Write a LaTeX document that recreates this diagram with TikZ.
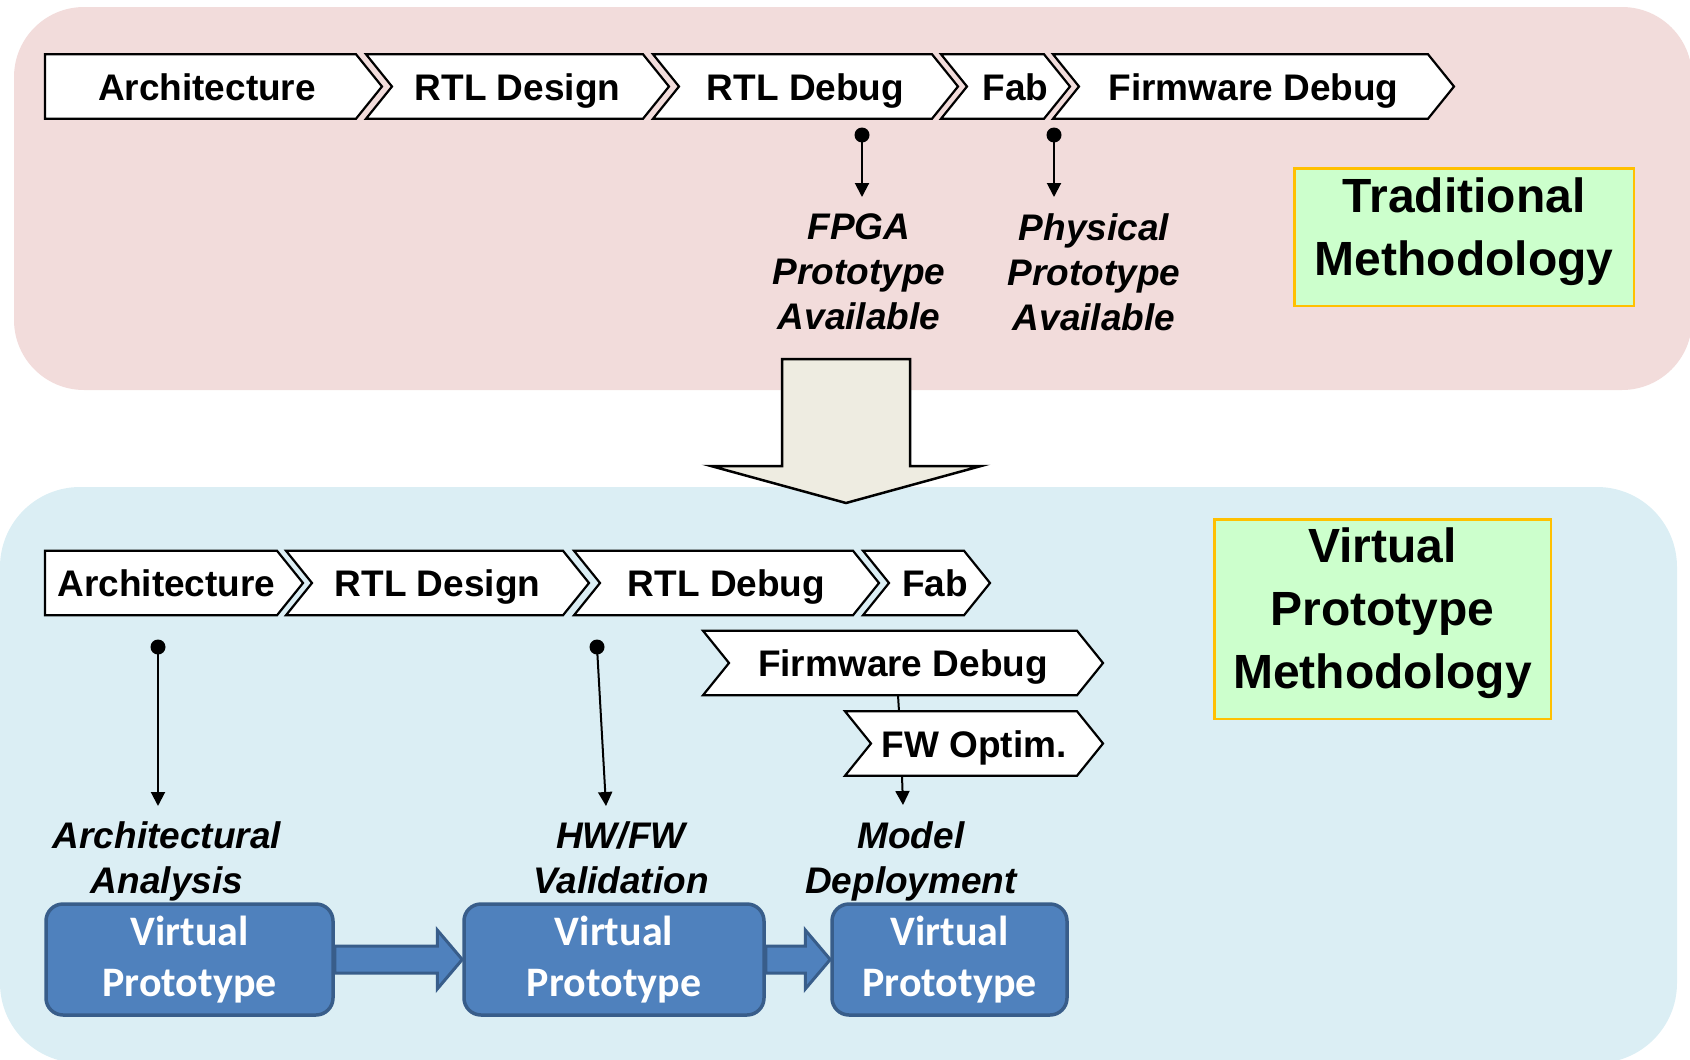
\documentclass[tikz,border=0pt]{standalone}
\usepackage{fontspec}
\setmainfont{Liberation Sans}
\newfontfamily\carlito{Carlito}
\usetikzlibrary{arrows.meta,calc}
\pgfdeclarelayer{bg}
\pgfdeclarelayer{chev}
\pgfsetlayers{bg,chev,main}
\definecolor{pinkbg}{HTML}{F2DCDB}
\definecolor{bluebg}{HTML}{DBEEF4}
\definecolor{vpfill}{HTML}{4F81BD}
\definecolor{vpdraw}{HTML}{385D8A}
\definecolor{mfill}{HTML}{CCFFCC}
\definecolor{mdraw}{HTML}{FFC000}
\definecolor{bigarrowfill}{HTML}{EEECE1}
\tikzset{
  chevnode/.style={rectangle, inner sep=0pt, outer sep=0pt, minimum height=64.5pt,
    text height=27pt, text depth=0pt, font=\fontsize{37}{44}\selectfont\bfseries},
  chevline/.style={draw=black, fill=white, line width=2.2pt, line join=miter},
  lbl/.style={anchor=north, inner sep=0pt, align=center,
    font=\fontsize{37}{45}\selectfont\bfseries\itshape},
  dotnode/.style={circle, fill=black, inner sep=0pt, minimum size=15pt},
  arr/.style={line width=2pt, -{Triangle[length=14pt,width=14pt]}},
  plainline/.style={line width=2pt},
  methbox/.style={rectangle, draw=mdraw, fill=mfill, line width=2.5pt, align=center,
    font=\fontsize{48}{63}\selectfont\bfseries},
  vpbox/.style={rectangle, rounded corners=17pt, draw=vpdraw, fill=vpfill, line width=3.5pt,
    text=white, align=center, minimum height=111pt, font=\fontsize{42}{51}\selectfont\carlito\bfseries},
  blockarrow/.style={draw=vpdraw, fill=vpfill, line width=3pt, line join=miter},
  bigarrow/.style={draw=black, fill=bigarrowfill, line width=2.5pt, line join=miter},
}
\newcommand\chevN[1]{%
  \path[chevline] ([xshift=-26pt]#1.north west) -- (#1.north east) -- ([xshift=26pt]#1.east)
    -- (#1.south east) -- ([xshift=-26pt]#1.south west) -- (#1.west) -- cycle;}
\newcommand\chevF[1]{%
  \path[chevline] (#1.north west) -- (#1.north east) -- ([xshift=26pt]#1.east)
    -- (#1.south east) -- (#1.south west) -- cycle;}
\newcommand\blockarr[2]{%
  \path[blockarrow] ([yshift=13.5pt]#1.east) -- ([xshift=-25pt,yshift=13.5pt]#2.west)
    -- ([xshift=-25pt,yshift=29.5pt]#2.west) -- (#2.west)
    -- ([xshift=-25pt,yshift=-29.5pt]#2.west) -- ([xshift=-25pt,yshift=-13.5pt]#2.west)
    -- ([yshift=-13.5pt]#1.east) -- cycle;}
\newcommand\lowstrut{\rule[-21pt]{0pt}{21pt}}
\begin{document}
\begin{tikzpicture}[x=1pt,y=-1pt]
\useasboundingbox (0,0) rectangle (1690,1060);
\begin{pgfonlayer}{bg}
  \fill[pinkbg, rounded corners=70pt] (14,7) rectangle (1692,390);
  \fill[bluebg, rounded corners=80pt] (0,487) rectangle (1677,1063);
\end{pgfonlayer}

% ---- traditional flow
\node[chevnode, minimum width=311pt] (archT) at (200.5,86.5) {\hspace*{6.5pt}Architecture\hspace*{-6.5pt}};
\node[chevnode, minimum width=251pt] (rtldesT) at (517.5,86.5) {RTL Design};
\node[chevnode, minimum width=253pt] (rtldbgT) at (805.5,86.5) {RTL Debug};
\node[chevnode, minimum width=77pt] (fabT) at (1005.5,86.5) {\hspace*{10pt}Fab\hspace*{-10pt}};
\node[chevnode, minimum width=349pt] (fwT) at (1253.5,86.5) {Firmware Debug};

% ---- virtual prototype flow
\node[chevnode, minimum width=232pt] (archB) at (161,583) {\hspace*{5.5pt}Architecture\hspace*{-5.5pt}};
\node[chevnode, minimum width=251pt] (rtldesB) at (437.5,583) {RTL Design};
\node[chevnode, minimum width=253pt] (rtldbgB) at (726.5,583) {RTL Debug};
\node[chevnode, minimum width=75pt] (fabB) at (926.5,583) {\hspace*{8.5pt}Fab\hspace*{-8.5pt}};
\node[chevnode, minimum width=348pt] (fwdB) at (903,663) {Firmware Debug};
\node[chevnode, minimum width=206pt] (fwO) at (974,743.5) {FW Optim.};

\begin{pgfonlayer}{chev}
  \chevF{archT} \chevN{rtldesT} \chevN{rtldbgT} \chevN{fabT} \chevN{fwT}
  \chevF{archB} \chevN{rtldesB} \chevN{rtldbgB} \chevN{fabB} \chevN{fwdB} \chevN{fwO}
\end{pgfonlayer}

% ---- labels
\node[lbl] (fpga) at (859,213) {FPGA\\Prototype\\Available};
\node[lbl] (phys) at (1094,213) {Physical\\Prototype\\Available};
\node[lbl] (archA) at (167,821) {Architectural\\Analysis};
\node[lbl] (hwfw) at (621,821) {HW/FW\\Validation};
\node[lbl] (model) at (911,821) {Model\\Deployment};

% ---- milestone connectors
\node[dotnode] (dF) at (862,135) {};
\node[dotnode] (dP) at (1054,135) {};
\node[dotnode] (dA) at (158,647) {};
\node[dotnode] (dH) at (597,647) {};
\coordinate (eF) at (862,197);
\coordinate (eP) at (1054,197);
\coordinate (eA) at (158,806);
\coordinate (eH) at (606,806);
\coordinate (eM) at (903,805);
\draw[arr] (dF.center) -- (eF);
\draw[arr] (dP.center) -- (eP);
\draw[arr] (dA.center) -- (eA);
\draw[arr] (dH.center) -- (eH);
\draw[plainline] ([xshift=-5pt]fwdB.south) -- ([xshift=-4pt]fwdB.south |- fwO.north);
\draw[arr] ([xshift=-1pt]fwdB.south |- fwO.south) -- (eM);

% ---- methodology boxes
\node[methbox, minimum width=339.5pt, minimum height=137.5pt] (trad) at (1464,237) {Traditional\\Methodology\lowstrut};
\node[methbox, minimum width=336.5pt, minimum height=199.5pt] (vpm) at (1382.5,619) {Virtual\\Prototype\\Methodology\lowstrut};

% ---- big transition arrow
\path[bigarrow] (782,359) -- (910,359) -- (910,466) -- (981,466) -- (846,503) -- (711,466) -- (782,466) -- cycle;

% ---- virtual prototype boxes
\node[vpbox, minimum width=287pt] (vp1) at (189.5,959.5) {Virtual\\Prototype};
\node[vpbox, minimum width=300pt] (vp2) at (614,959.5) {Virtual\\Prototype};
\node[vpbox, minimum width=235pt] (vp3) at (949.5,959.5) {Virtual\\Prototype};
\blockarr{vp1}{vp2}
\blockarr{vp2}{vp3}
\end{tikzpicture}
\end{document}
